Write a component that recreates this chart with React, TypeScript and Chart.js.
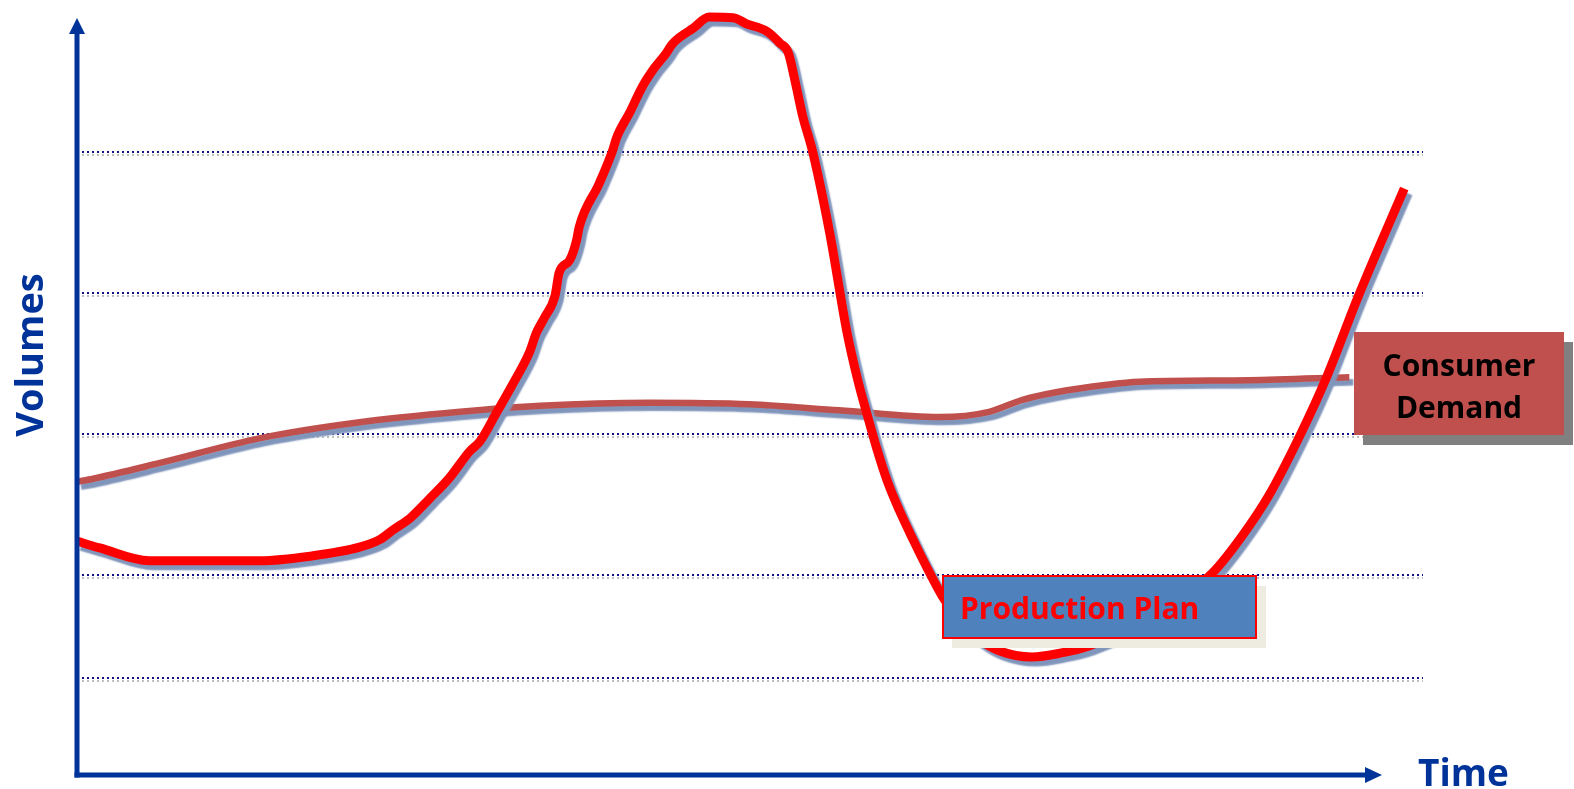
import { useEffect, useRef } from "react";
import { Chart, registerables } from "chart.js";

Chart.register(...registerables);

// Production Plan curve (time 0-100, volume 0-100)
const prodTime = [
  0, 1.7, 5.4, 9.2, 13.7, 17.4, 21.1, 22.6, 23.6, 24.9, 26.3, 27.8, 29.3, 30.1,
  31.3, 32.7, 33.8, 34.3, 34.9, 35.7, 36.0, 36.8, 37.3, 37.5, 39.0, 40.0, 40.3,
  41.3, 42.2, 43.1, 44.0, 44.4, 45.0, 46.0, 47.2, 49.0, 50.0, 51.5, 52.5, 53.1,
  53.6, 54.2, 54.9, 56.2, 57.5, 58.3, 59.0, 59.7, 60.5, 61.4, 62.4, 63.4, 64.6,
  65.9, 67.4, 68.9, 71.3, 73.4, 75.6, 80.1, 82.7, 84.8, 87.0, 89.0, 91.3, 93.3,
  95.7, 99.1,
];
const prodVolume = [
  30.7, 29.8, 28.1, 28.1, 28.1, 28.7, 29.9, 30.9, 32.2, 33.8, 36.3, 39.1, 42.6,
  44.0, 47.7, 52.1, 55.9, 58.4, 60.4, 63.4, 66.4, 68.1, 70.7, 72.5, 78.3, 82.7,
  84.4, 87.8, 91.1, 93.6, 95.6, 96.7, 97.7, 98.9, 100.4, 100.3, 99.5, 98.5, 96.9,
  95.7, 92.0, 87.1, 82.7, 71.7, 58.4, 52.1, 47.5, 43.1, 38.7, 34.8, 31.0, 27.4,
  23.4, 20.2, 17.6, 16.1, 15.3, 15.8, 16.8, 20.5, 23.5, 26.5, 31.4, 36.8, 44.7,
  52.5, 63.4, 77.6,
];

// Consumer Demand curve
const demandTime = [
  0, 1.2, 6.2, 13.7, 21.1, 28.6, 34.6, 42.8, 50.2, 56.9, 64.4, 68.1, 70.6, 73.1,
  76.9, 79.3, 87.5, 95.0,
];
const demandVolume = [
  38.6, 39.0, 41.1, 44.4, 46.5, 47.9, 48.7, 49.1, 48.9, 48.1, 47.2, 47.9, 49.5,
  50.5, 51.5, 51.9, 52.1, 52.5,
];

// dotted reference lines
const gridLevels = [12.5, 26.2, 45.0, 63.7, 82.5];

const AXIS_BLUE = "#003399";
const FONT = '"Open Sans", "DejaVu Sans", sans-serif';

const toPoints = (xs: number[], ys: number[]) => xs.map((x, i) => ({ x, y: ys[i] }));

// soft shadow under the dotted grid lines
const gridShadow = {
  id: "gridShadow",
  beforeDraw(chart: Chart) {
    const ctx = chart.ctx;
    ctx.save();
    ctx.shadowColor = "rgba(0,0,0,0.25)";
    ctx.shadowOffsetY = 3;
  },
  beforeDatasetsDraw(chart: Chart) {
    chart.ctx.restore();
  },
};

// blue-grey drop shadow under each line
const lineShadow = {
  id: "lineShadow",
  beforeDatasetDraw(chart: Chart) {
    const ctx = chart.ctx;
    ctx.save();
    ctx.shadowColor = "#8095BB";
    ctx.shadowOffsetX = 4;
    ctx.shadowOffsetY = 5;
    ctx.shadowBlur = 1.5;
  },
  afterDatasetDraw(chart: Chart) {
    chart.ctx.restore();
  },
};

// arrowed axes + axis titles
const axesPlugin = {
  id: "arrowAxes",
  afterDatasetsDraw(chart: Chart) {
    const { ctx, chartArea } = chart;
    const { left, bottom, top, right } = chartArea;
    ctx.save();
    ctx.strokeStyle = AXIS_BLUE;
    ctx.fillStyle = AXIS_BLUE;
    ctx.lineWidth = 5;
    ctx.lineCap = "butt";

    // vertical axis
    const yTip = top + 13;
    ctx.beginPath();
    ctx.moveTo(left, bottom + 2.5);
    ctx.lineTo(left, yTip + 15);
    ctx.stroke();
    ctx.beginPath();
    ctx.moveTo(left, yTip);
    ctx.lineTo(left - 8, yTip + 16);
    ctx.lineTo(left + 8, yTip + 16);
    ctx.closePath();
    ctx.fill();

    // horizontal axis
    const xTip = right - 41;
    ctx.beginPath();
    ctx.moveTo(left - 2.5, bottom);
    ctx.lineTo(xTip - 15, bottom);
    ctx.stroke();
    ctx.beginPath();
    ctx.moveTo(xTip, bottom);
    ctx.lineTo(xTip - 17, bottom - 8);
    ctx.lineTo(xTip - 17, bottom + 8);
    ctx.closePath();
    ctx.fill();

    ctx.font = `bold 37px ${FONT}`;
    ctx.textBaseline = "alphabetic";
    ctx.textAlign = "left";
    ctx.fillText("Time", right - 5, bottom + 11);

    ctx.font = `bold 38px ${FONT}`;
    ctx.translate(43, 355);
    ctx.rotate(-Math.PI / 2);
    ctx.textAlign = "center";
    ctx.fillText("Volumes", 0, 0);
    ctx.restore();
  },
};

// callout boxes
const labelsPlugin = {
  id: "calloutBoxes",
  afterDraw(chart: Chart) {
    const ctx = chart.ctx;
    ctx.save();

    // Production Plan
    ctx.fillStyle = "#EEECE1";
    ctx.fillRect(952, 586, 314, 62);
    ctx.fillStyle = "#4F81BD";
    ctx.fillRect(943, 576, 313, 62);
    ctx.strokeStyle = "#FF0000";
    ctx.lineWidth = 2;
    ctx.strokeRect(943, 576, 313, 62);
    ctx.fillStyle = "#FF0000";
    ctx.font = `bold 30px ${FONT}`;
    ctx.textAlign = "left";
    ctx.textBaseline = "alphabetic";
    ctx.fillText("Production Plan", 960, 619);

    // Consumer Demand
    ctx.fillStyle = "#808080";
    ctx.fillRect(1363, 342, 210, 103);
    ctx.fillStyle = "#C0504D";
    ctx.fillRect(1354, 332, 210, 103);
    ctx.fillStyle = "#000000";
    ctx.font = `bold 30px ${FONT}`;
    ctx.textAlign = "center";
    ctx.fillText("Consumer", 1459, 376);
    ctx.fillText("Demand", 1459, 418);
    ctx.restore();
  },
};

export default function App() {
  const canvasRef = useRef<HTMLCanvasElement>(null);
  const chartRef = useRef<Chart | null>(null);

  useEffect(() => {
    if (!canvasRef.current) return;
    const ctx = canvasRef.current.getContext("2d");
    if (!ctx) return;

    if (chartRef.current) chartRef.current.destroy();

    chartRef.current = new Chart(ctx, {
      type: "line",
      data: {
        datasets: [
          {
            label: "Production Plan",
            data: toPoints(prodTime, prodVolume),
            borderColor: "#FF0000",
            borderWidth: 9,
            pointRadius: 0,
            cubicInterpolationMode: "monotone",
            fill: false,
          },
          {
            label: "Consumer Demand",
            data: toPoints(demandTime, demandVolume),
            borderColor: "#C0504D",
            borderWidth: 6.5,
            pointRadius: 0,
            cubicInterpolationMode: "monotone",
            fill: false,
          },
        ],
      },
      options: {
        responsive: true,
        maintainAspectRatio: false,
        animation: false,
        layout: { padding: { left: 77, right: 151, top: 5, bottom: 14 } },
        plugins: {
          legend: { display: false },
          title: { display: false },
          tooltip: { enabled: false },
        },
        scales: {
          x: { type: "linear", min: 0, max: 100.5, display: false },
          y: {
            type: "linear",
            min: -0.4,
            max: 102,
            afterBuildTicks: (scale) => {
              scale.ticks = gridLevels.map((value) => ({ value }));
            },
            ticks: { display: false },
            grid: { color: "#10108A", lineWidth: 2, drawTicks: false },
            border: { display: false, dash: [2, 3] },
          },
        },
      },
      plugins: [gridShadow, lineShadow, axesPlugin, labelsPlugin],
    });

    return () => {
      if (chartRef.current) {
        chartRef.current.destroy();
        chartRef.current = null;
      }
    };
  }, []);

  return (
    <div style={{ position: "fixed", left: 0, top: 0, width: "100vw", height: "100vh", background: "#fff" }}>
      <canvas ref={canvasRef} />
    </div>
  );
}
